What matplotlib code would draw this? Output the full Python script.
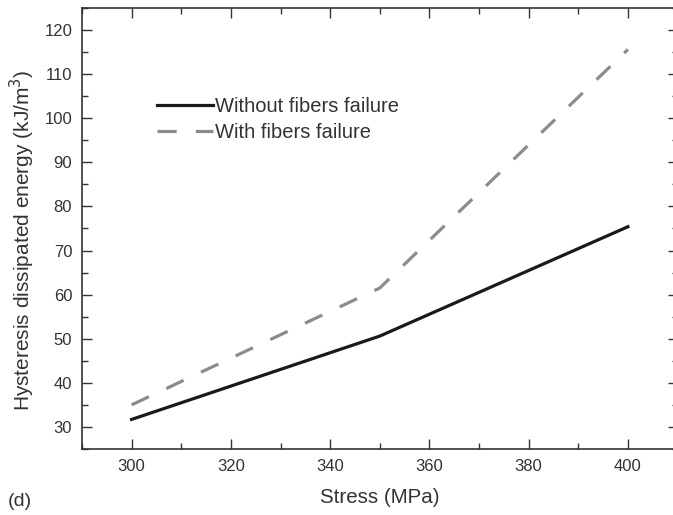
import matplotlib.pyplot as plt
from matplotlib.ticker import MultipleLocator

plt.rcParams['font.family'] = ['Liberation Sans', 'DejaVu Sans']

stress = [300, 350, 400]
without_failure = [31.7, 50.6, 75.4]
with_failure = [35.0, 61.5, 115.6]

fig = plt.figure(figsize=(6.73, 5.15), dpi=100)
ax = fig.add_axes([0.1218, 0.1282, 0.885, 0.8563])

ax.plot(stress, without_failure, color='#1a1a1a', lw=2.3, label='Without fibers failure')
ax.plot(stress, with_failure, color='#8c8c8c', lw=2.3, dashes=(6, 6), label='With fibers failure')

ax.set_xlim(290, 410)
ax.set_ylim(25, 125)
ax.xaxis.set_major_locator(MultipleLocator(20))
ax.xaxis.set_minor_locator(MultipleLocator(10))
ax.yaxis.set_major_locator(MultipleLocator(10))
ax.yaxis.set_minor_locator(MultipleLocator(5))
ax.set_yticks(range(30, 121, 10))
ax.tick_params(which='both', direction='in', top=True, right=True, color='#333333',
               labelcolor='#333333', labelsize=12, width=1)
ax.tick_params(which='major', length=7, pad=7)
ax.tick_params(which='minor', length=4)
for s in ax.spines.values():
    s.set_color('#333333')
    s.set_linewidth(1.2)

ax.set_xlabel('Stress (MPa)', fontsize=14.8, color='#333333', labelpad=10.5)
ax.set_ylabel('Hysteresis dissipated energy (kJ/m$^3$)', fontsize=15, color='#333333', labelpad=5)
ax.yaxis.label.set_y(0.474)

ax.legend(loc='upper left', bbox_to_anchor=(0.126, 0.798), frameon=False, fontsize=14.5,
          handlelength=2.8, handletextpad=0.1, borderpad=0, borderaxespad=0,
          labelspacing=0.35, labelcolor='#333333')

fig.text(0.012, 0.018, '(d)', fontsize=14, color='#333333')

fig.savefig('out.png', dpi=100)
